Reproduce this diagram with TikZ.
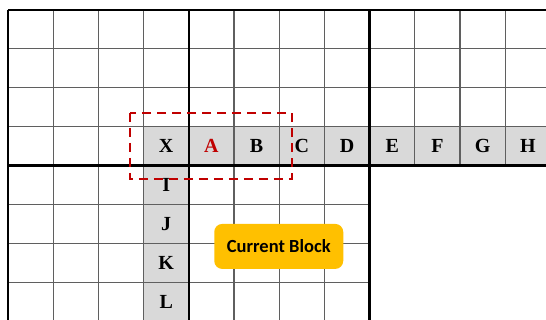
\documentclass[tikz,border=0pt]{standalone}
\usepackage{fontspec}
\setmainfont{Liberation Serif}
\newfontfamily\labelfont{Carlito}
\usepackage{xcolor}
\usepackage{tikz}
\usetikzlibrary{positioning}
\definecolor{cellgray}{RGB}{217,217,217}
\definecolor{gridgray}{RGB}{95,95,95}
\definecolor{markred}{RGB}{192,0,0}
\definecolor{blockgold}{RGB}{255,192,0}
\tikzset{
  thinline/.style={draw=gridgray, line width=1.1pt},
  thickline/.style={draw=black, line width=2.6pt},
  celltext/.style={font=\fontsize{20}{20}\selectfont\bfseries, inner sep=0pt},
  window/.style={draw=markred, line width=2.4pt, dash pattern=on 9pt off 6pt},
  blockbox/.style={
    fill=blockgold,
    rounded corners=8pt,
    minimum width=129pt,
    minimum height=45pt,
    inner sep=0pt,
    font=\labelfont\fontsize{18.5}{18.5}\selectfont\bfseries
  }
}

\begin{document}
\begin{tikzpicture}[x=45.2pt, y=-38.95pt]
\useasboundingbox (-8pt,10pt) rectangle (538pt,-310pt);
\clip (-8pt,10pt) rectangle (538pt,-310pt);
\fill[white] (-8pt,10pt) rectangle (538pt,-310pt);

% shaded row and column
\fill[cellgray] (3,3) rectangle (13,4);
\fill[cellgray] (3,4) rectangle (4,9);

% thin grid lines
\foreach \i in {1,2,3,5,6,7,9,10,11,12}
  \draw[thinline] (\i,0) -- (\i,4);
\foreach \i in {1,2,3,5,6,7}
  \draw[thinline] (\i,4) -- (\i,9);
\foreach \j in {1,2,3}
  \draw[thinline] (0,\j) -- (13,\j);
\foreach \j in {5,6,7,8}
  \draw[thinline] (0,\j) -- (8,\j);

% block borders
\foreach \i in {0,4,8}
  \draw[thickline] (\i,0) -- (\i,9);
\draw[thickline] (0,0) -- (13,0);
\draw[thickline] (0,4) -- (13,4);

% labels
\foreach \l/\c [count=\i from 3] in {X/black,A/markred,B/black,C/black,D/black,E/black,F/black,G/black,H/black}
  \node[celltext, text=\c] (r\l) at (\i+0.5,3.5) {\l};
\foreach \l [count=\j from 4] in {I,J,K,L}
  \node[celltext] (c\l) at (3.5,\j+0.5) {\l};

% search window
\draw[window] (2.7,2.64) rectangle (6.28,4.34);

\node[blockbox] (cur) at (5.99,6.07) {Current Block};
\end{tikzpicture}
\end{document}
